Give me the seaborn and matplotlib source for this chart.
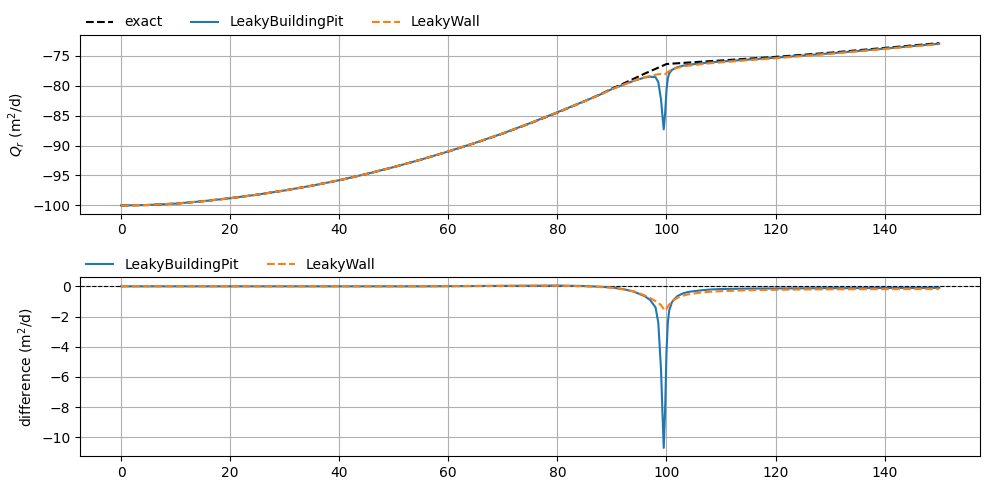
import matplotlib
matplotlib.use("Agg")
import matplotlib.pyplot as plt
import numpy as np
import pandas as pd
import seaborn as sns

x = [0, 5, 10, 15, 20, 25, 30, 35, 40, 45, 50, 55, 60, 65, 70, 75, 80, 85,
     88, 90, 92, 94, 96, 97, 98, 98.5, 99, 99.25, 99.5, 99.75, 100, 100.25,
     100.5, 101, 101.5, 102, 103, 104, 106, 108, 110, 115, 120, 125, 130,
     135, 140, 145, 150]

# exact discharge Q_r (m2/d)
q_exact = [-100.0, -99.93, -99.7, -99.3, -98.8, -98.2, -97.5, -96.7, -95.8,
           -94.75, -93.6, -92.35, -91.0, -89.55, -88.0, -86.3, -84.5, -82.6,
           -81.4, -80.5, -79.7, -78.85, -78.0, -77.6, -77.2, -77.0, -76.8,
           -76.7, -76.6, -76.5, -76.4, -76.38, -76.36, -76.33, -76.3, -76.27,
           -76.21, -76.15, -76.03, -75.91, -75.8, -75.5, -75.2, -74.85, -74.5,
           -74.1, -73.7, -73.3, -72.9]

# model minus exact (m2/d)
d_pit = [0.0, 0.0, 0.0, 0.0, 0.0, 0.0, 0.0, 0.0, 0.0, 0.0, 0.0, 0.0, 0.01,
         0.02, 0.03, 0.04, 0.05, 0.02, -0.03, -0.08, -0.18, -0.35, -0.65, -0.9,
         -1.4, -2.4, -5.5, -8.2, -10.7, -8.2, -4.4, -2.4, -1.6, -1.05, -0.83,
         -0.65, -0.47, -0.37, -0.28, -0.21, -0.18, -0.15, -0.14, -0.13, -0.12,
         -0.12, -0.11, -0.11, -0.1]
d_wall = [0.0, 0.0, 0.0, 0.0, 0.0, 0.0, 0.0, 0.0, 0.0, 0.0, 0.0, 0.0, 0.01,
          0.02, 0.03, 0.04, 0.04, 0.0, -0.05, -0.1, -0.2, -0.33, -0.6, -0.78,
          -0.98, -1.1, -1.25, -1.38, -1.5, -1.6, -1.5, -1.35, -1.2, -1.02,
          -0.88, -0.76, -0.62, -0.53, -0.43, -0.36, -0.32, -0.26, -0.23, -0.21,
          -0.2, -0.19, -0.19, -0.18, -0.18]

df = pd.DataFrame({"x": x, "exact": q_exact, "d_pit": d_pit, "d_wall": d_wall})
df["pit"] = df["exact"] + df["d_pit"]
df["wall"] = df["exact"] + df["d_wall"]

fig, (ax1, ax2) = plt.subplots(2, 1, figsize=(9.89, 4.9), dpi=100)
fig.subplots_adjust(left=0.081, right=0.991, top=0.9286, bottom=0.0694, hspace=0.358)

sns.lineplot(data=df, x="x", y="exact", color="k", linestyle="--", label="exact", ax=ax1)
sns.lineplot(data=df, x="x", y="pit", color="C0", label="LeakyBuildingPit", ax=ax1)
sns.lineplot(data=df, x="x", y="wall", color="C1", linestyle="--", label="LeakyWall", ax=ax1)
ax1.set_ylabel("$Q_r$ (m$^2$/d)")
ax1.set_xlabel("")
ax1.grid(True)
ax1.legend(loc="lower left", bbox_to_anchor=(0, 1), ncol=3, frameon=False, borderaxespad=0)

ax2.axhline(0, color="k", linestyle="--", linewidth=0.8)
sns.lineplot(data=df, x="x", y="d_pit", color="C0", label="LeakyBuildingPit", ax=ax2)
sns.lineplot(data=df, x="x", y="d_wall", color="C1", linestyle="--", label="LeakyWall", ax=ax2)
ax2.set_ylabel("difference (m$^2$/d)")
ax2.set_xlabel("")
ax2.grid(True)
ax2.legend(loc="lower left", bbox_to_anchor=(0, 1), ncol=2, frameon=False, borderaxespad=0)

fig.savefig("out.png", dpi=100)
